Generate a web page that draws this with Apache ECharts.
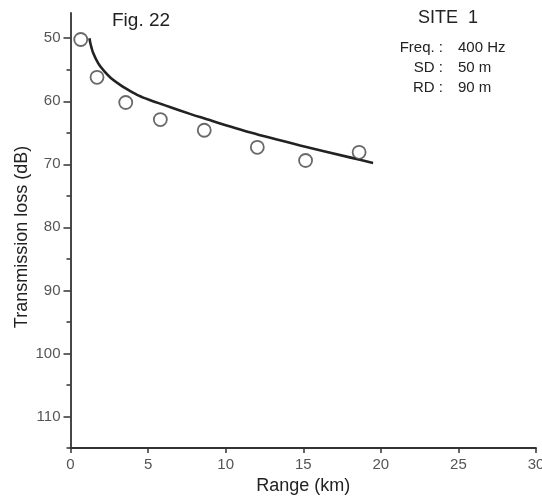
<!DOCTYPE html>
<html>
<head>
<meta charset="utf-8">
<script src="https://cdn.jsdelivr.net/npm/echarts@6/dist/echarts.min.js"></script>
<style>
  html, body { margin: 0; padding: 0; background: #fff; }
  #chart { width: 542px; height: 500px; }
</style>
</head>
<body>
<div id="chart"></div>
<script>
// Measured transmission loss (circles), range in km vs loss in dB
const measuredRange = [0.66, 1.71, 3.56, 5.79, 8.62, 12.04, 15.15, 18.6];
const measuredLoss  = [50.2, 56.2, 60.2, 62.9, 64.6, 67.3, 69.4, 68.1];

// Model prediction (solid curve)
const modelRange = [1.22, 1.30, 1.47, 1.79, 2.2, 2.6, 3.2, 3.8, 4.4, 5.1, 5.8, 6.4, 7.7, 8.4, 11.6, 14.8, 18.0, 19.5];
const modelLoss  = [50.0, 51.0, 52.4, 54.0, 55.3, 56.3, 57.4, 58.3, 59.1, 59.8, 60.4, 60.9, 62.0, 62.55, 64.95, 67.0, 68.9, 69.8];

// Axis tick values
const xTicks = [0, 5, 10, 15, 20, 25, 30];
const yMajorTicks = [50, 60, 70, 80, 90, 100, 110];
const yMinorTicks = [55, 65, 75, 85, 95, 105, 115];

// Titles and annotation text
const xTitle = 'Range (km)';
const yTitle = 'Transmission loss (dB)';
const figLabel = 'Fig. 22';
const siteLabel = 'SITE  1';
const paramNames = ['Freq. :', 'SD :', 'RD :'];
const paramValues = ['400 Hz', '50 m', '90 m'];

const FONT = '"Liberation Sans", Arial, Helvetica, sans-serif';
const AXIS_COLOR = '#333';
const TICK_LABEL_COLOR = '#555';
const TEXT_COLOR = '#222';

const chart = echarts.init(document.getElementById('chart'), null, { renderer: 'canvas' });

// Parameter block: names right-aligned on the colon, values left-aligned
const paramGraphics = [];
paramNames.forEach((name, i) => {
  const y = 48 + i * 20;
  paramGraphics.push({
    type: 'text', x: 443, y: y,
    style: { text: name, font: '15px ' + FONT, fill: TEXT_COLOR, textAlign: 'right', textVerticalAlign: 'middle' }
  });
  paramGraphics.push({
    type: 'text', x: 458, y: y,
    style: { text: paramValues[i], font: '15px ' + FONT, fill: TEXT_COLOR, textAlign: 'left', textVerticalAlign: 'middle' }
  });
});

const option = {
  animation: false,
  backgroundColor: '#fff',
  grid: { left: 70.5, right: 6, top: 13, bottom: 52, containLabel: false, outerBoundsMode: 'none' },
  xAxis: {
    type: 'value',
    min: 0, max: 30, interval: 5,
    name: xTitle,
    nameLocation: 'middle',
    nameGap: 29,
    nameTextStyle: { fontFamily: FONT, fontSize: 18, color: TEXT_COLOR },
    axisLine: { show: true, onZero: false, lineStyle: { color: AXIS_COLOR, width: 1.8 } },
    axisTick: { show: true, inside: false, length: 5, customValues: xTicks, lineStyle: { color: AXIS_COLOR, width: 1.5 } },
    axisLabel: { customValues: xTicks, margin: 9, fontFamily: FONT, fontSize: 15, color: TICK_LABEL_COLOR, hideOverlap: false },
    splitLine: { show: false }
  },
  yAxis: [
    {
      type: 'value',
      inverse: true,
      min: 46, max: 115,
      axisLine: { show: true, onZero: false, lineStyle: { color: AXIS_COLOR, width: 1.8 } },
      axisTick: { show: true, inside: false, length: 7, customValues: yMajorTicks, lineStyle: { color: AXIS_COLOR, width: 1.5 } },
      axisLabel: { customValues: yMajorTicks, margin: 10, fontFamily: FONT, fontSize: 15, color: TICK_LABEL_COLOR },
      splitLine: { show: false }
    },
    {
      type: 'value',
      inverse: true,
      min: 46, max: 115,
      position: 'left',
      axisLine: { show: false },
      axisTick: { show: true, inside: false, length: 4, customValues: yMinorTicks, lineStyle: { color: AXIS_COLOR, width: 1.5 } },
      axisLabel: { show: false },
      splitLine: { show: false }
    }
  ],
  graphic: [
    {
      type: 'text', x: 22, y: 237, rotation: Math.PI / 2,
      style: { text: yTitle, font: '18px ' + FONT, fill: TEXT_COLOR, textAlign: 'center', textVerticalAlign: 'middle' }
    },
    {
      type: 'text', x: 112, y: 21,
      style: { text: figLabel, font: '19px ' + FONT, fill: TEXT_COLOR, textAlign: 'left', textVerticalAlign: 'middle' }
    },
    {
      type: 'text', x: 448, y: 18,
      style: { text: siteLabel, font: '18px ' + FONT, fill: TEXT_COLOR, textAlign: 'center', textVerticalAlign: 'middle' }
    }
  ].concat(paramGraphics),
  series: [
    {
      type: 'line',
      yAxisIndex: 0,
      data: modelRange.map((r, i) => [r, modelLoss[i]]),
      smooth: 0.3,
      showSymbol: false,
      lineStyle: { color: '#222', width: 2.6 },
      z: 2
    },
    {
      type: 'scatter',
      yAxisIndex: 0,
      data: measuredRange.map((r, i) => [r, measuredLoss[i]]),
      symbol: 'circle',
      symbolSize: 13,
      itemStyle: { color: '#fff', borderColor: '#444', borderWidth: 1.8 },
      z: 3
    }
  ]
};

chart.setOption(option);
</script>
</body>
</html>
